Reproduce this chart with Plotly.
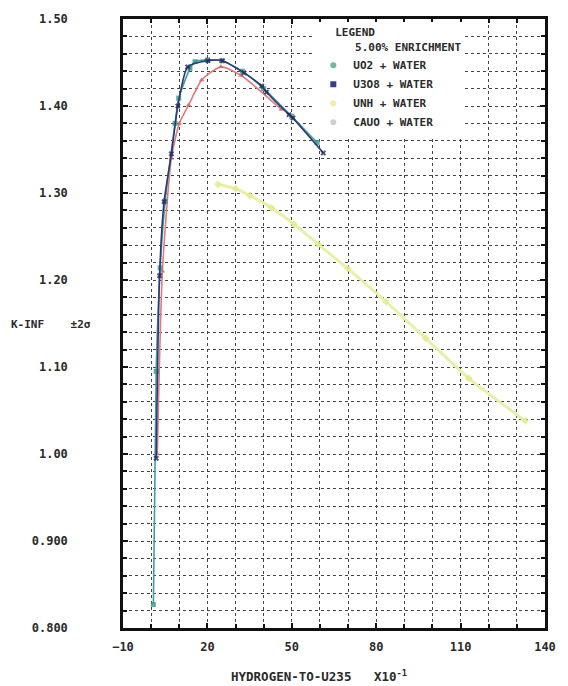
import plotly.graph_objects as go

# Hydrogen-to-U235 ratio (x10^-1) and k-infinity for each fuel/water mixture
uo2_x = [0.8, 1.8, 3.2, 5.0, 8.5, 9.8, 13.8, 15.6, 20.0, 25.0, 32.4, 40.0, 50.0, 59.0]
uo2_y = [0.827, 1.095, 1.214, 1.291, 1.380, 1.409, 1.443, 1.451, 1.453, 1.452, 1.440, 1.420, 1.388, 1.358]

u3o8_x = [1.8, 3.0, 4.6, 7.2, 9.5, 13.0, 20.2, 25.4, 33.0, 39.3, 41.0, 49.0, 50.4, 61.2]
u3o8_y = [0.995, 1.205, 1.290, 1.345, 1.400, 1.445, 1.452, 1.452, 1.438, 1.423, 1.416, 1.390, 1.386, 1.346]

unh_x = [23.7, 30.0, 35.1, 42.8, 50.8, 59.4, 69.9, 83.5, 97.6, 112.9, 133.0]
unh_y = [1.310, 1.305, 1.297, 1.283, 1.264, 1.241, 1.213, 1.175, 1.133, 1.087, 1.038]

cauo_x = [2.2, 4.0, 7.2, 10.0, 13.3, 18.0, 24.8, 32.0, 46.3]
cauo_y = [1.000, 1.210, 1.340, 1.380, 1.401, 1.430, 1.445, 1.435, 1.396]

y_tick_vals = [0.8, 0.9, 1.0, 1.1, 1.2, 1.3, 1.4, 1.5]
y_tick_text = ["0.800", "0.900", "1.00", "1.10", "1.20", "1.30", "1.40", "1.50"]

FONT = "DejaVu Sans Mono"
INK = "#2a2a2a"
NB = "\u00a0"

# (label, x, y, line colour, marker colour, symbol, legend swatch colour)
series = [
    ("UNH + WATER", unh_x, unh_y, "#e9efa6", "#e2ea8c", "diamond", "#eef0a8"),
    ("CAUO + WATER", cauo_x, cauo_y, "#e27c7c", "#d95f5f", "triangle-up", "#cfcfcf"),
    ("UO2 + WATER", uo2_x, uo2_y, "#3f9f9c", "#3a9a8c", "square", "#6db89f"),
    ("U3O8 + WATER", u3o8_x, u3o8_y, "#2e3a78", "#262a5e", "x", "#3a3c8c"),
]

fig = go.Figure()

for name, xs, ys, lc, mc, sym, _ in series:
    is_unh = name.startswith("UNH")
    fig.add_trace(go.Scatter(
        x=xs, y=ys, mode="lines+markers", name=name, showlegend=False,
        line=dict(color=lc, width=3 if is_unh else 1.6, shape="spline", smoothing=0.6),
        marker=dict(color=mc, size=6 if is_unh else 5, symbol=sym, opacity=0.8),
    ))

# Legend swatches, listed in the plotter's order
legend_order = ["UO2 + WATER", "U3O8 + WATER", "UNH + WATER", "CAUO + WATER"]
lookup = {s[0]: s for s in series}
for rank, name in enumerate(legend_order):
    _, _, _, _, _, sym, sw = lookup[name]
    fig.add_trace(go.Scatter(
        x=[None], y=[None], mode="markers", name=name, legendrank=rank,
        marker=dict(color=sw, size=6, symbol="circle" if sym != "x" else "square"),
    ))

grid = dict(showgrid=True, gridcolor="#444444", griddash="dot", gridwidth=1)

fig.update_layout(
    width=568, height=686,
    margin=dict(l=123, r=13, t=15, b=58),
    paper_bgcolor="white", plot_bgcolor="white",
    font=dict(family=FONT, size=12, color=INK),
    showlegend=True,
    legend=dict(
        x=0.451, y=0.995, xanchor="left", yanchor="top",
        bgcolor="white", borderwidth=0,
        font=dict(family=FONT, size=11, color=INK, weight="bold"),
        title=dict(text=NB * 3 + "LEGEND<br>" + NB * 6 + "5.00% ENRICHMENT",
                   font=dict(family=FONT, size=11, color=INK, weight="bold")),
        tracegroupgap=0, itemwidth=30,
    ),
    xaxis=dict(
        range=[-10, 140], tickmode="linear", tick0=-10, dtick=30,
        ticks="inside", ticklen=5, tickwidth=1.5, tickcolor="#111",
        showline=True, linewidth=2.5, linecolor="#111", mirror="ticks",
        zeroline=False, ticklabelstandoff=6,
        tickfont=dict(family=FONT, size=12, color=INK, weight="bold"),
        minor=dict(dtick=10, tick0=-10, ticks="inside", ticklen=4, tickcolor="#111", **grid),
        **grid,
    ),
    yaxis=dict(
        range=[0.8, 1.5], tickmode="array", tickvals=y_tick_vals, ticktext=y_tick_text,
        ticks="inside", ticklen=5, tickwidth=1.5, tickcolor="#111",
        showline=True, linewidth=2.5, linecolor="#111", mirror="ticks",
        zeroline=False, ticklabelstandoff=50,
        tickfont=dict(family=FONT, size=12, color=INK, weight="bold"),
        minor=dict(dtick=0.02, tick0=0.8, ticks="inside", ticklen=4, tickcolor="#111", **grid),
        **grid,
    ),
    annotations=[
        dict(text="K-INF" + NB * 4 + "\u00b12\u03c3", xref="paper", yref="paper",
             x=-0.27, y=0.499, xanchor="left", yanchor="middle", showarrow=False,
             font=dict(family=FONT, size=11, color=INK, weight="bold")),
        dict(text="HYDROGEN-TO-U235" + NB * 3 + "X10<sup>-1</sup>", xref="paper", yref="paper",
             x=0.465, y=-0.078, xanchor="center", yanchor="middle", showarrow=False,
             font=dict(family=FONT, size=12.5, color=INK, weight="bold")),
    ],
)

fig.write_html("out.html")
